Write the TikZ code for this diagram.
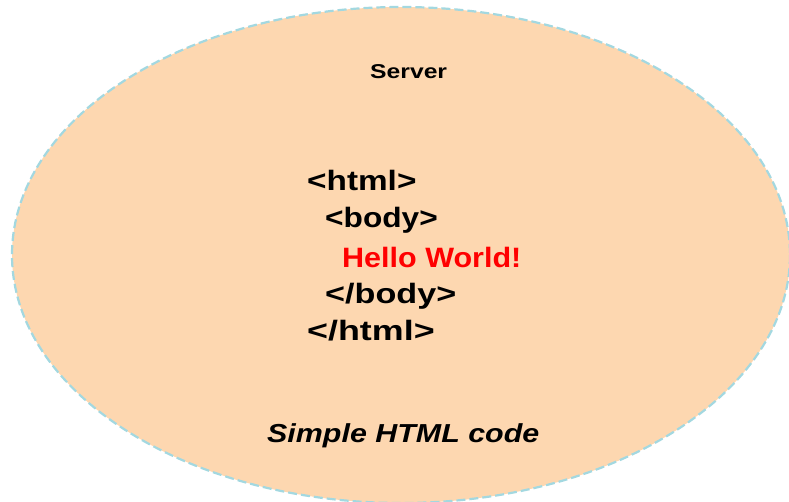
\documentclass[tikz,border=0pt]{standalone}
\usepackage{fontspec}
\setmainfont{Liberation Sans}
\begin{document}
\begin{tikzpicture}[x=1pt,y=-1pt,
  servershape/.style={fill=peach, draw=edgeblue, line width=2.2pt, dash pattern=on 9pt off 4pt},
  codeline/.style={anchor=base west, font=\bfseries\fontsize{28}{32}\selectfont, inner sep=0pt},
  title/.style={anchor=base west, font=\bfseries\fontsize{20}{24}\selectfont, inner sep=0pt},
  caption/.style={anchor=base west, font=\bfseries\itshape\fontsize{26}{30}\selectfont, inner sep=0pt}]
\definecolor{peach}{HTML}{FDD7B0}
\definecolor{edgeblue}{HTML}{A3D8E0}
\useasboundingbox (0,0) rectangle (789,501);
\clip (0,0) rectangle (789,501);
% the server
\draw[servershape] (401,255) ellipse [x radius=389, y radius=248];
\node[title] (server) at (370,78) {\scalebox{1.235}[1]{Server}};
% page source
\node[codeline] (l1) at (307,190) {\scalebox{1.19}[1]{<html>}};
\node[codeline] (l2) at (325,227) {\scalebox{1.13}[1]{<body>}};
\node[codeline, text=red] (l3) at (342,267) {\scalebox{1.09}[1]{Hello World!}};
\node[codeline] (l4) at (325,303) {\scalebox{1.22}[1]{</body>}};
\node[codeline] (l5) at (307,340) {\scalebox{1.28}[1]{</html>}};
\node[caption] (cap) at (267,442) {\scalebox{1.17}[1]{Simple HTML code}};
\end{tikzpicture}
\end{document}
